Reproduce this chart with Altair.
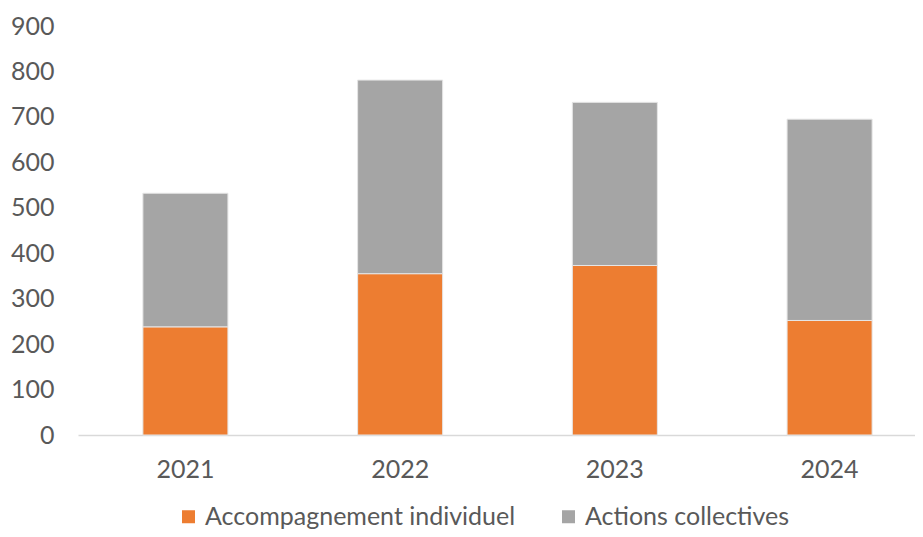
import altair as alt
import pandas as pd

years = ["2021", "2022", "2023", "2024"]
accompagnement = [238, 355, 373, 252]
actions = [294, 426, 359, 443]
series = ["Accompagnement individuel", "Actions collectives"]
colors = ["#ED7D31", "#A5A5A5"]

rows = []
for i, y in enumerate(years):
    rows.append({"year": y, "serie": series[0], "value": accompagnement[i], "ord": 0})
    rows.append({"year": y, "serie": series[1], "value": actions[i], "ord": 1})
df = pd.DataFrame(rows)

font = "Lato"
txt = "#595959"

chart = alt.Chart(df).mark_bar(stroke="#e6e6e6", strokeWidth=1).encode(
    x=alt.X("year:N", sort=years, title=None,
            scale=alt.Scale(paddingInner=0.604, paddingOuter=0.251, align=0.602),
            axis=alt.Axis(labelAngle=0, labelFont=font, labelFontSize=25, labelColor=txt,
                          labelPadding=22, ticks=False, domainColor="#d9d9d9",
                          domainWidth=1.5, grid=False)),
    y=alt.Y("value:Q", stack="zero", title=None,
            scale=alt.Scale(domain=[0, 900], nice=False),
            axis=alt.Axis(values=list(range(0, 901, 100)), labelFont=font, labelFontSize=25,
                          labelColor=txt, labelPadding=24, ticks=False, domain=False,
                          grid=False)),
    color=alt.Color("serie:N", sort=series, title=None,
                    scale=alt.Scale(domain=series, range=colors),
                    legend=alt.Legend(orient="none", legendX=98, legendY=478,
                                      direction="horizontal", symbolType="square",
                                      symbolSize=169, symbolStrokeWidth=0,
                                      labelFont=font, labelFontSize=25, labelColor=txt,
                                      labelOffset=4, columnPadding=40, labelLimit=500)),
    order=alt.Order("ord:Q"),
).properties(
    width=837, height=409,
    autosize=alt.AutoSizeParams(type="none"),
    padding={"left": 70, "top": 18, "right": 0, "bottom": 94},
).configure_view(stroke=None)

chart.save("out.html", embed_options={"renderer": "svg", "actions": False})
